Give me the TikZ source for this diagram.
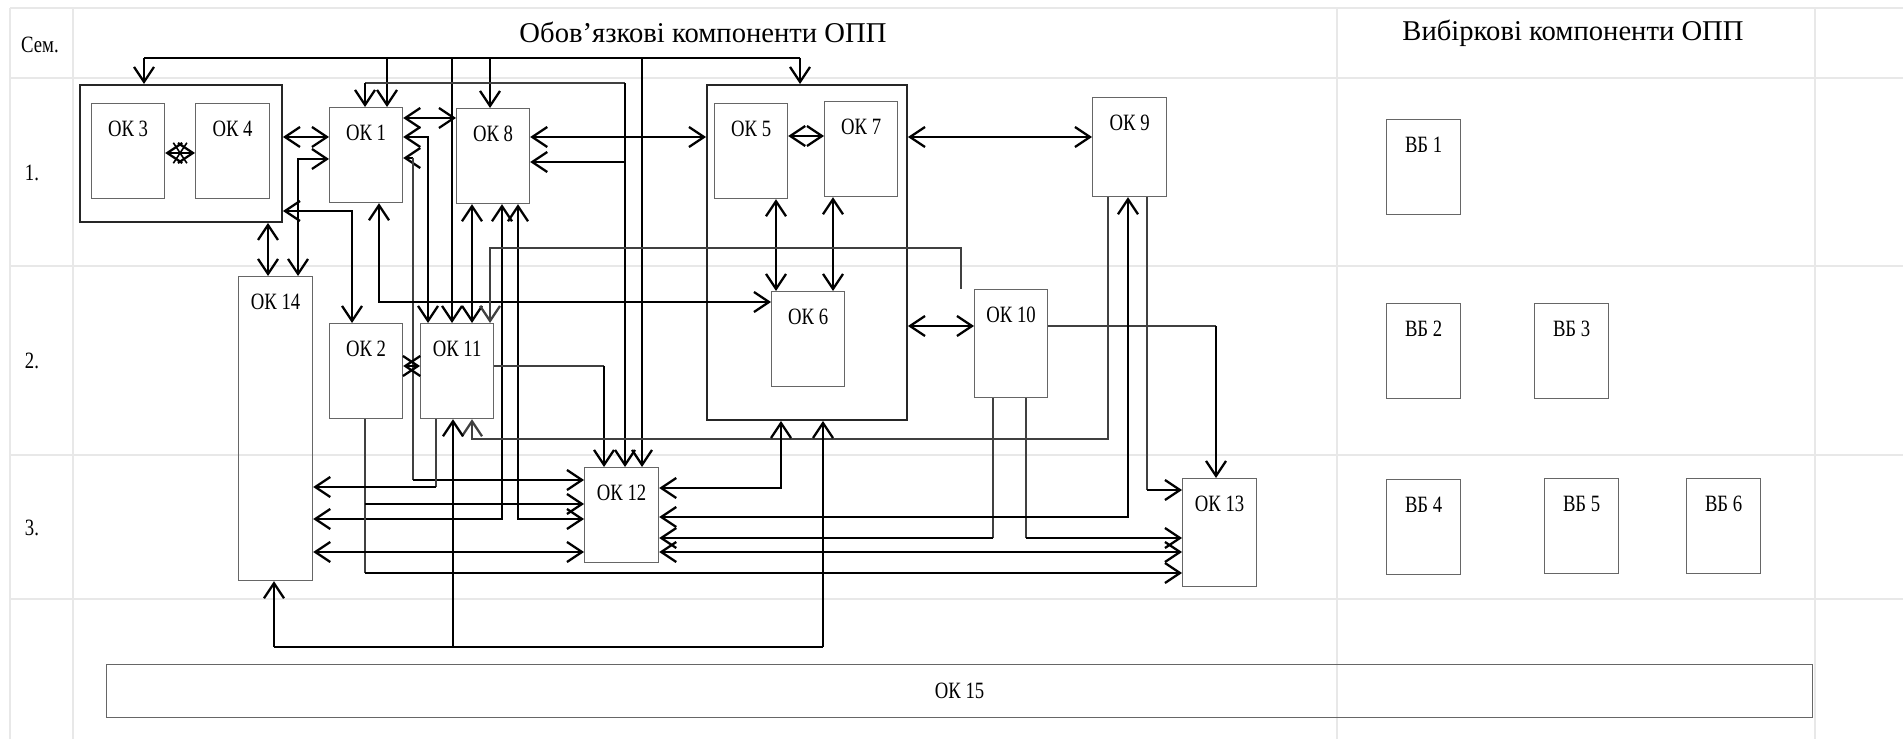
\documentclass[tikz,border=0pt]{standalone}
\usepackage{fontspec}
\setmainfont{Liberation Serif}
\newfontfamily\okfont{Liberation Serif}[FakeStretch=0.8]
\usepackage{tikz}
\usetikzlibrary{arrows.meta, positioning, shapes.misc}

\tikzset{
    gridline/.style={draw=black!9, line width=0.9pt},
    okbox/.style={draw=black!60, line width=0.7pt, inner sep=0pt, anchor=north west,
        minimum width=14.6mm, minimum height=19mm},
    frm/.style={draw=black!85, line width=1.1pt, inner sep=0pt, anchor=north west},
    oklbl/.style={anchor=north, inner sep=0pt, yshift=-3.6mm, font=\okfont\fontsize{13.3}{15}\selectfont},
    crossx/.style={cross out, draw, line width=0.9pt, inner sep=0pt, minimum width=2.4mm, minimum height=3.8mm},
    ln/.style={line width=1.5pt},
    md/.style={line width=0.9pt},
    tn/.style={line width=0.6pt, draw=black!75},
    >={Straight Barb[length=3mm, width=4mm, line width=1.3pt]}
}

\begin{document}
\begin{tikzpicture}[x=0.2mm, y=-0.2mm]
    \useasboundingbox (0,0) rectangle (1903,739);
    % table
    \foreach \y in {8,78,266,455,599}
        \draw[gridline] (10,\y) -- (1903,\y);
    \foreach \x in {10,73,1337,1815}
        \draw[gridline] (\x,8) -- (\x,739);
    \node[font=\okfont\fontsize{13.3}{15}\selectfont] (sem) at (40,45) {Сем.};
    \node[font=\okfont\fontsize{13.3}{15}\selectfont] (r1) at (32,173) {1.};
    \node[font=\okfont\fontsize{13.3}{15}\selectfont] (r2) at (32,361) {2.};
    \node[font=\okfont\fontsize{13.3}{15}\selectfont] (r3) at (32,528) {3.};
    \node[font=\fontsize{16.3}{19}\selectfont] (obl) at (703,32) {Обов’язкові компоненти ОПП};
    \node[font=\fontsize{16.3}{19}\selectfont] (vyb) at (1573,33) {Вибіркові компоненти ОПП};

    % frames
    \node[frm, minimum width=40.4mm, minimum height=27.4mm] (frame34) at (79,84) {};
    \node[frm, minimum width=40mm, minimum height=67mm] (frame576) at (706,84) {};

    % components
    \node[okbox, label={[oklbl]north:ОК 3}] (ok3) at (91,103) {};
    \node[okbox, minimum width=14.8mm, label={[oklbl]north:ОК 4}] (ok4) at (195,103) {};
    \node[okbox, label={[oklbl]north:ОК 1}] (ok1) at (329,107) {};
    \node[okbox, label={[oklbl]north:ОК 8}] (ok8) at (456,108) {};
    \node[okbox, label={[oklbl]north:ОК 5}] (ok5) at (714,103) {};
    \node[okbox, label={[oklbl]north:ОК 7}] (ok7) at (824,101) {};
    \node[okbox, label={[oklbl]north:ОК 6}] (ok6) at (771,291) {};
    \node[okbox, minimum width=14.8mm, minimum height=19.8mm, label={[oklbl]north:ОК 9}] (ok9) at (1092,97) {};
    \node[okbox, minimum width=14.8mm, minimum height=60.8mm, label={[oklbl]north:ОК 14}] (ok14) at (238,276) {};
    \node[okbox, label={[oklbl]north:ОК 2}] (ok2) at (329,323) {};
    \node[okbox, label={[oklbl]north:ОК 11}] (ok11) at (420,323) {};
    \node[okbox, minimum height=21.6mm, label={[oklbl]north:ОК 10}] (ok10) at (974,289) {};
    \node[okbox, minimum width=14.8mm, label={[oklbl]north:ОК 12}] (ok12) at (584,467) {};
    \node[okbox, minimum width=14.8mm, minimum height=21.6mm, label={[oklbl]north:ОК 13}] (ok13) at (1182,478) {};
    \node[okbox, minimum width=341.2mm, minimum height=10.6mm, font=\okfont\fontsize{13.3}{15}\selectfont] (ok15) at (106,664) {ОК 15};
    \foreach \n/\x/\y in {1/1386/119, 2/1386/303, 3/1534/303, 4/1386/479, 5/1544/478, 6/1686/478}
        \node[okbox, minimum width=14.8mm, label={[oklbl]north:ВБ \n}] (vb\n) at (\x,\y) {};

    % top buses
    \draw[md] (144,58) coordinate (t0) -- (800,58) coordinate (t1);
    \draw[ln,->] (t0) -- (frame34.north -| t0);
    \draw[ln,->] (387,58) -- (ok1.north -| 387,0);
    \draw[ln,->] (452,58) -- (ok11.north -| 452,0);
    \draw[ln,->] (490,58) -- (ok8.north -| 490,0);
    \draw[ln,->] (642,58) -- (ok12.north -| 642,0);
    \draw[ln,->] (t1) -- (frame576.north -| t1);
    \draw[tn] (365,83) coordinate (s0) -- (625,83) coordinate (s1);
    \draw[ln,->] (s0) -- (ok1.north -| s0);
    \draw[ln,->] (s1) -- (ok12.north -| s1);
    \draw[ln,->] (625,162) -- (ok8.east |- 0,162);

    % first semester
    \draw[ln,<->] (ok3.east |- 0,153) -- node[crossx] {} (ok4.west |- 0,153);
    \draw[ln,<->] (ok5.east |- 0,136) -- (ok7.west |- 0,136);
    \draw[ln,<->] (frame34.east |- 0,137) -- (ok1.west |- 0,137);
    \draw[ln,<->] (ok1.west |- 0,159) -- (298,159) -- (ok14.north -| 298,0);
    \draw[ln,<->] (frame34.east |- 0,211) -- (352,211) -- (ok2.north -| 352,0);
    \draw[ln,<->] (frame34.south -| 268,0) -- (ok14.north -| 268,0);
    \draw[ln,<->] (ok1.east |- 0,118) -- (ok8.west |- 0,118);
    \draw[ln,<->] (ok1.east |- 0,137) -- (428,137) -- (ok11.north -| 428,0);
    \draw[ln,<-] (ok1.east |- 0,158) -- (413,158) coordinate (a1);
    \draw[tn] (a1) -- (413,480) coordinate (a2);
    \draw[ln,->] (a2) -- (ok12.west |- a2);
    \draw[ln,<->] (ok1.south -| 379,0) -- (379,302) -- (ok6.west |- 0,302);
    \draw[ln,<->] (ok8.east |- 0,137) -- (frame576.west |- 0,137);
    \draw[ln,<->] (ok8.south -| 472,0) -- (ok11.north -| 472,0);
    \draw[ln,<->] (ok8.south -| 502,0) -- (502,519) -- (ok14.east |- 0,519);
    \draw[ln,<->] (ok8.south -| 518,0) -- (518,519) -- (ok12.west |- 0,519);
    \draw[ln,<->] (frame576.east |- 0,137) -- (ok9.west |- 0,137);
    \draw[ln,<->] (ok5.south -| 776,0) -- (ok6.north -| 776,0);
    \draw[ln,<->] (ok7.south -| 833,0) -- (ok6.north -| 833,0);

    % second semester
    \draw[tn,->] (ok10.north -| 961,0) -- (961,248) -- (490,248) -- (ok11.north -| 490,0);
    \draw[ln,<->] (ok2.east |- 0,366) -- (ok11.west |- 0,366);
    \draw[tn] (ok11.east |- 0,366) -- (604,366) coordinate (c1);
    \draw[ln,->] (c1) -- (ok12.north -| c1);
    \draw[tn] (ok2.south -| 365,0) -- (365,573) coordinate (d1);
    \draw[ln,->] (365,504) -- (ok12.west |- 0,504);
    \draw[ln,->] (d1) -- (ok13.west |- d1);
    \draw[tn] (ok11.south -| 436,0) -- (436,487) coordinate (e1);
    \draw[ln,->] (e1) -- (ok14.east |- e1);
    \draw[ln,<->] (frame576.east |- 0,326) -- (ok10.west |- 0,326);
    \draw[tn] (ok10.east |- 0,326) -- (1216,326) coordinate (g1);
    \draw[ln,->] (g1) -- (ok13.north -| g1);
    \draw[tn] (ok10.south -| 993,0) -- (993,538) coordinate (h1);
    \draw[ln,->] (h1) -- (ok12.east |- h1);
    \draw[tn] (ok10.south -| 1026,0) -- (1026,538) coordinate (h2);
    \draw[ln,->] (h2) -- (ok13.west |- h2);
    \draw[tn,->] (ok9.south -| 1108,0) -- (1108,439) -- (472,439) -- (ok11.south -| 472,0);
    \draw[ln,<->] (ok9.south -| 1128,0) -- (1128,517) -- (ok12.east |- 0,517);
    \draw[tn] (ok9.south -| 1147,0) -- (1147,490) coordinate (f1);
    \draw[ln,->] (f1) -- (ok13.west |- f1);

    % third semester
    \draw[ln,<->] (ok12.east |- 0,488) -- (781,488) -- (frame576.south -| 781,0);
    \draw[ln,<->] (ok14.east |- 0,552) -- (ok12.west |- 0,552);
    \draw[ln,<->] (ok12.east |- 0,552) -- (ok13.west |- 0,552);

    % bottom bus
    \draw[md] (274,647) coordinate (u0) -- (823,647) coordinate (u1);
    \draw[md,->] (u0) -- (ok14.south -| u0);
    \draw[md,->] (453,647) -- (ok11.south -| 453,0);
    \draw[ln,->] (u1) -- (frame576.south -| u1);
\end{tikzpicture}
\end{document}
